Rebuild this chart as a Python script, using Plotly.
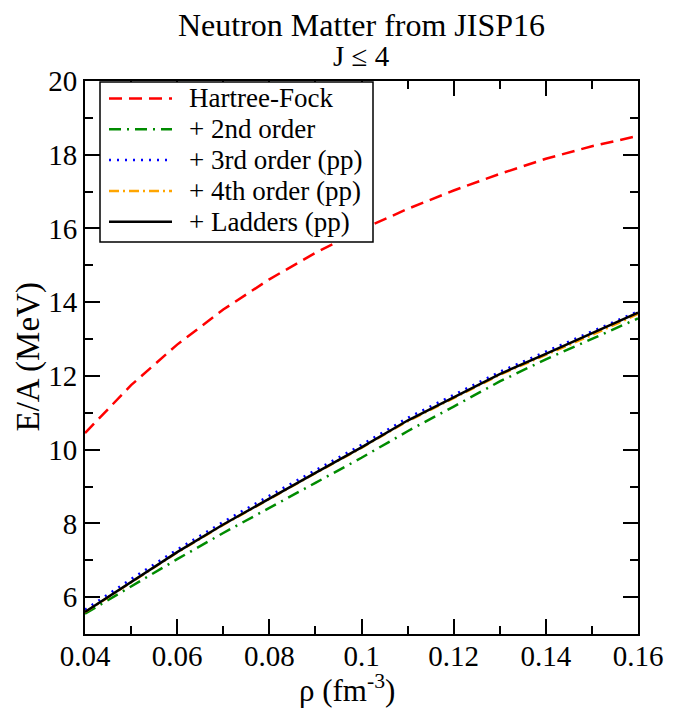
import plotly.graph_objects as go

# ---- data ----
rho = [0.04, 0.05, 0.06, 0.07, 0.08, 0.09, 0.10, 0.11, 0.12, 0.13, 0.14, 0.15, 0.16]
hartree_fock = [10.45, 11.75, 12.85, 13.80, 14.62, 15.34, 15.97, 16.53, 17.03, 17.48, 17.89, 18.23, 18.51]
second_order = [5.55, 6.30, 7.03, 7.74, 8.43, 9.10, 9.78, 10.50, 11.17, 11.85, 12.45, 13.0, 13.56]
third_order = [5.66, 6.49, 7.29, 8.04, 8.75, 9.44, 10.13, 10.86, 11.49, 12.11, 12.66, 13.2, 13.75]
fourth_order = [5.59, 6.41, 7.21, 7.96, 8.67, 9.36, 10.05, 10.77, 11.40, 12.03, 12.57, 13.11, 13.68]
ladders = [5.60, 6.42, 7.22, 7.97, 8.68, 9.37, 10.06, 10.79, 11.42, 12.05, 12.60, 13.15, 13.72]

names = ["Hartree-Fock", "+ 2nd order", "+ 3rd order (pp)", "+ 4th order (pp)", "+ Ladders (pp)"]
series = [hartree_fock, second_order, third_order, fourth_order, ladders]
colors = ["rgb(255,0,0)", "rgb(0,139,0)", "rgb(0,0,255)", "rgb(255,165,0)", "rgb(0,0,0)"]
dashes = ["13px,7px", "12px,6px,2px,6px", "2px,6px", "10px,4px,2px,4px", "solid"]

FONT = "Liberation Serif"

fig = go.Figure()
for nm, ys, c, d in zip(names, series, colors, dashes):
    fig.add_trace(go.Scatter(x=rho, y=ys, mode="lines", name=nm, showlegend=False,
                             line=dict(color=c, width=2.5, dash=d)))

# the page body has an 8px margin, so the figure is sized to fill the rest
OFF = 8
FW, FH = 680 - OFF, 710 - OFF
# plot area in page pixels
L, R, T, B = 85, 638, 81, 634
W, H = R - L, B - T


def px_x(p):
    return (p - L) / W


def px_y(p):
    return (B - p) / H


shapes = []
annotations = []
# custom legend box
shapes.append(dict(type="rect", xref="paper", yref="paper",
                   x0=px_x(100), x1=px_x(373), y0=px_y(242), y1=px_y(82),
                   line=dict(color="black", width=1.5), fillcolor="white", layer="above"))
for i, (nm, c, d) in enumerate(zip(names, colors, dashes)):
    yc = 98.5 + i * 30.8
    shapes.append(dict(type="line", xref="paper", yref="paper",
                       x0=px_x(109), x1=px_x(172), y0=px_y(yc), y1=px_y(yc),
                       line=dict(color=c, width=2.5, dash=d), layer="above"))
    annotations.append(dict(text=nm, xref="paper", yref="paper", x=px_x(187), y=px_y(yc),
                            xanchor="left", yanchor="middle", showarrow=False,
                            font=dict(family=FONT, size=27, color="black")))

# titles
annotations.append(dict(text="Neutron Matter from JISP16", xref="paper", yref="paper",
                        x=0.5, y=px_y(25), xanchor="center", yanchor="middle", showarrow=False,
                        font=dict(family=FONT, size=32, color="black")))
annotations.append(dict(text="J ≤ 4", xref="paper", yref="paper",
                        x=0.5, y=px_y(56), xanchor="center", yanchor="middle", showarrow=False,
                        font=dict(family=FONT, size=29, color="black")))
annotations.append(dict(text="ρ (fm<sup>-3</sup>)", xref="paper", yref="paper",
                        x=px_x(347), y=px_y(688), xanchor="center", yanchor="middle", showarrow=False,
                        font=dict(family=FONT, size=31, color="black")))
annotations.append(dict(text="E/A (MeV)", xref="paper", yref="paper", textangle=-90,
                        x=px_x(28), y=0.5, xanchor="center", yanchor="middle", showarrow=False,
                        font=dict(family=FONT, size=33, color="black")))

axis_common = dict(showgrid=False, zeroline=False, showline=True, linecolor="black", linewidth=2,
                   mirror="allticks", ticks="inside", ticklen=15, tickwidth=2, tickcolor="black",
                   tickfont=dict(family=FONT, size=29, color="black"))

fig.update_layout(
    width=FW, height=FH,
    margin=dict(l=L - OFF, r=680 - R, t=T - OFF, b=710 - B, pad=0),
    paper_bgcolor="white", plot_bgcolor="white",
    showlegend=False,
    font=dict(family=FONT, color="black"),
    xaxis=dict(range=[0.04, 0.16], tick0=0.04, dtick=0.02, ticklabelstandoff=-5,
               minor=dict(dtick=0.01, ticks="inside", ticklen=8, tickwidth=2, tickcolor="black"),
               **axis_common),
    yaxis=dict(range=[5, 20], tick0=0, dtick=2,
               minor=dict(dtick=1, ticks="inside", ticklen=8, tickwidth=2, tickcolor="black"),
               **axis_common),
    shapes=shapes,
    annotations=annotations,
)

fig.write_html("out.html")
